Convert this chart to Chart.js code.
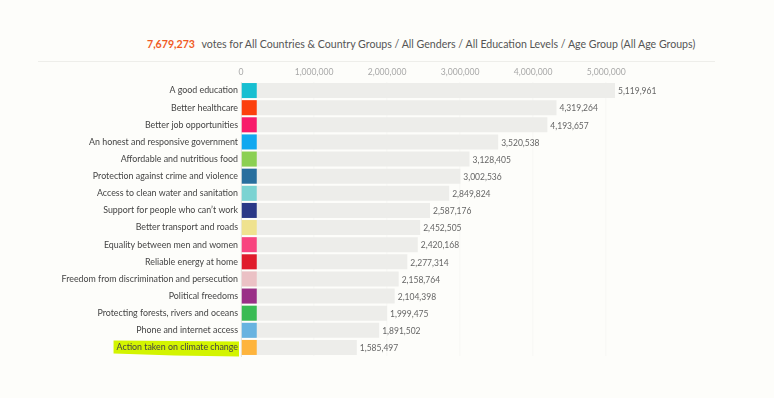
<!DOCTYPE html>
<html lang="en">
<head>
    <meta charset="UTF-8">
    <title>Votes by priority</title>
    <script src="https://cdn.jsdelivr.net/npm/chart.js"></script>
    <style>
        html, body { margin: 0; padding: 0; background: #fdfdfa; }
        .wrap { position: relative; width: 774px; height: 398px; }
        .title {
            position: absolute; left: 147px; top: 38px;
            font-family: Lato, sans-serif; font-size: 10.6px; color: #555;
            white-space: nowrap;
        }
        .title .total { color: #f05a24; font-weight: bold; margin-right: 4px; }
        .rule { position: absolute; left: 38px; top: 61px; width: 677px; border-top: 1px solid #eeeeea; }
        canvas { position: absolute; left: 0; top: 0; }
    </style>
</head>
<body>
    <div class="wrap">
        <div class="title"><span class="total">7,679,273</span> votes for All Countries &amp; Country Groups / All Genders / All Education Levels / Age Group (All Age Groups)</div>
        <div class="rule"></div>
        <canvas id="votesChart" width="774" height="398"></canvas>
    </div>

    <script>
        // priorities, most votes first
        const categories = [
            'A good education',
            'Better healthcare',
            'Better job opportunities',
            'An honest and responsive government',
            'Affordable and nutritious food',
            'Protection against crime and violence',
            'Access to clean water and sanitation',
            'Support for people who can\u2019t work',
            'Better transport and roads',
            'Equality between men and women',
            'Reliable energy at home',
            'Freedom from discrimination and persecution',
            'Political freedoms',
            'Protecting forests, rivers and oceans',
            'Phone and internet access',
            'Action taken on climate change'
        ];
        const votes = [5119961, 4319264, 4193657, 3520538, 3128405, 3002536, 2849824, 2587176,
                       2452505, 2420168, 2277314, 2158764, 2104398, 1999475, 1891502, 1585497];
        const swatches = ['#17bfd1', '#fc3f0c', '#f81a6b', '#10a8f0', '#8bd053', '#286f9e', '#7bd3d2', '#2a3887',
                          '#efe28f', '#f8447f', '#e01b2b', '#ebc1c5', '#9a2f87', '#39bb54', '#68b3e0', '#feb43c'];
        const tickValues = [0, 1000000, 2000000, 3000000, 4000000, 5000000];
        const highlighted = 'Action taken on climate change';

        const labelFont = 8.85;
        const fmt = v => v.toLocaleString('en-US');

        // marker brush behind the highlighted label
        const highlightPlugin = {
            id: 'highlight',
            beforeDraw(chart) {
                const y = chart.scales.y;
                const i = categories.indexOf(highlighted);
                if (i < 0) return;
                const ctx = chart.ctx;
                ctx.save();
                ctx.font = labelFont + 'px Lato';
                const w = ctx.measureText(highlighted).width;
                const right = chart.chartArea.left - 3;
                const left = right - w - 3;
                const cy = y.getPixelForValue(i);
                ctx.fillStyle = '#d3f400';
                ctx.beginPath();
                ctx.moveTo(left, cy - 7);
                ctx.lineTo(right + 1, cy - 6);
                ctx.lineTo(right + 1, cy + 9);
                ctx.lineTo(left + w * 0.5, cy + 8);
                ctx.lineTo(left, cy + 6);
                ctx.closePath();
                ctx.fill();
                ctx.restore();
            }
        };

        // coloured square at the start of each bar + value labels
        const barExtras = {
            id: 'barExtras',
            afterDatasetsDraw(chart) {
                const ctx = chart.ctx;
                const meta = chart.getDatasetMeta(0);
                ctx.save();
                meta.data.forEach((bar, i) => {
                    const h = bar.height;
                    ctx.fillStyle = swatches[i];
                    ctx.fillRect(bar.base, bar.y - h / 2, 15, h);
                    ctx.fillStyle = '#666';
                    ctx.font = '8.5px Lato';
                    ctx.textBaseline = 'middle';
                    ctx.textAlign = 'left';
                    ctx.fillText(fmt(votes[i]), bar.x + 3, bar.y + 1);
                });
                ctx.restore();
            }
        };

        const ctx = document.getElementById('votesChart').getContext('2d');
        new Chart(ctx, {
            type: 'bar',
            data: {
                labels: categories,
                datasets: [{
                    data: votes,
                    backgroundColor: '#ededea',
                    borderWidth: 0,
                    categoryPercentage: 1,
                    barPercentage: 0.877
                }]
            },
            options: {
                indexAxis: 'y',
                responsive: false,
                animation: false,
                layout: { padding: { top: 62, right: 159, bottom: 42, left: 0 } },
                plugins: {
                    legend: { display: false },
                    tooltip: { enabled: false }
                },
                scales: {
                    x: {
                        position: 'top',
                        min: 0,
                        max: Math.max(...votes),
                        z: 1,
                        afterFit(scale) { scale.height = 20; },
                        afterBuildTicks(scale) { scale.ticks = tickValues.map(v => ({ value: v })); },
                        grid: { color: '#f9f9f6', lineWidth: 1.5, drawTicks: false },
                        border: { display: false },
                        ticks: {
                            padding: 5,
                            color: '#a8a8a8',
                            font: { family: 'Lato', size: 8.6 },
                            callback: v => fmt(v)
                        }
                    },
                    y: {
                        afterFit(scale) { scale.width = 241; },
                        grid: { display: false, drawTicks: false },
                        border: { display: true, color: '#e4e4e0', width: 1 },
                        ticks: {
                            padding: 3,
                            color: '#444',
                            font: { family: 'Lato', size: labelFont }
                        }
                    }
                }
            },
            plugins: [highlightPlugin, barExtras]
        });
    </script>
</body>
</html>
